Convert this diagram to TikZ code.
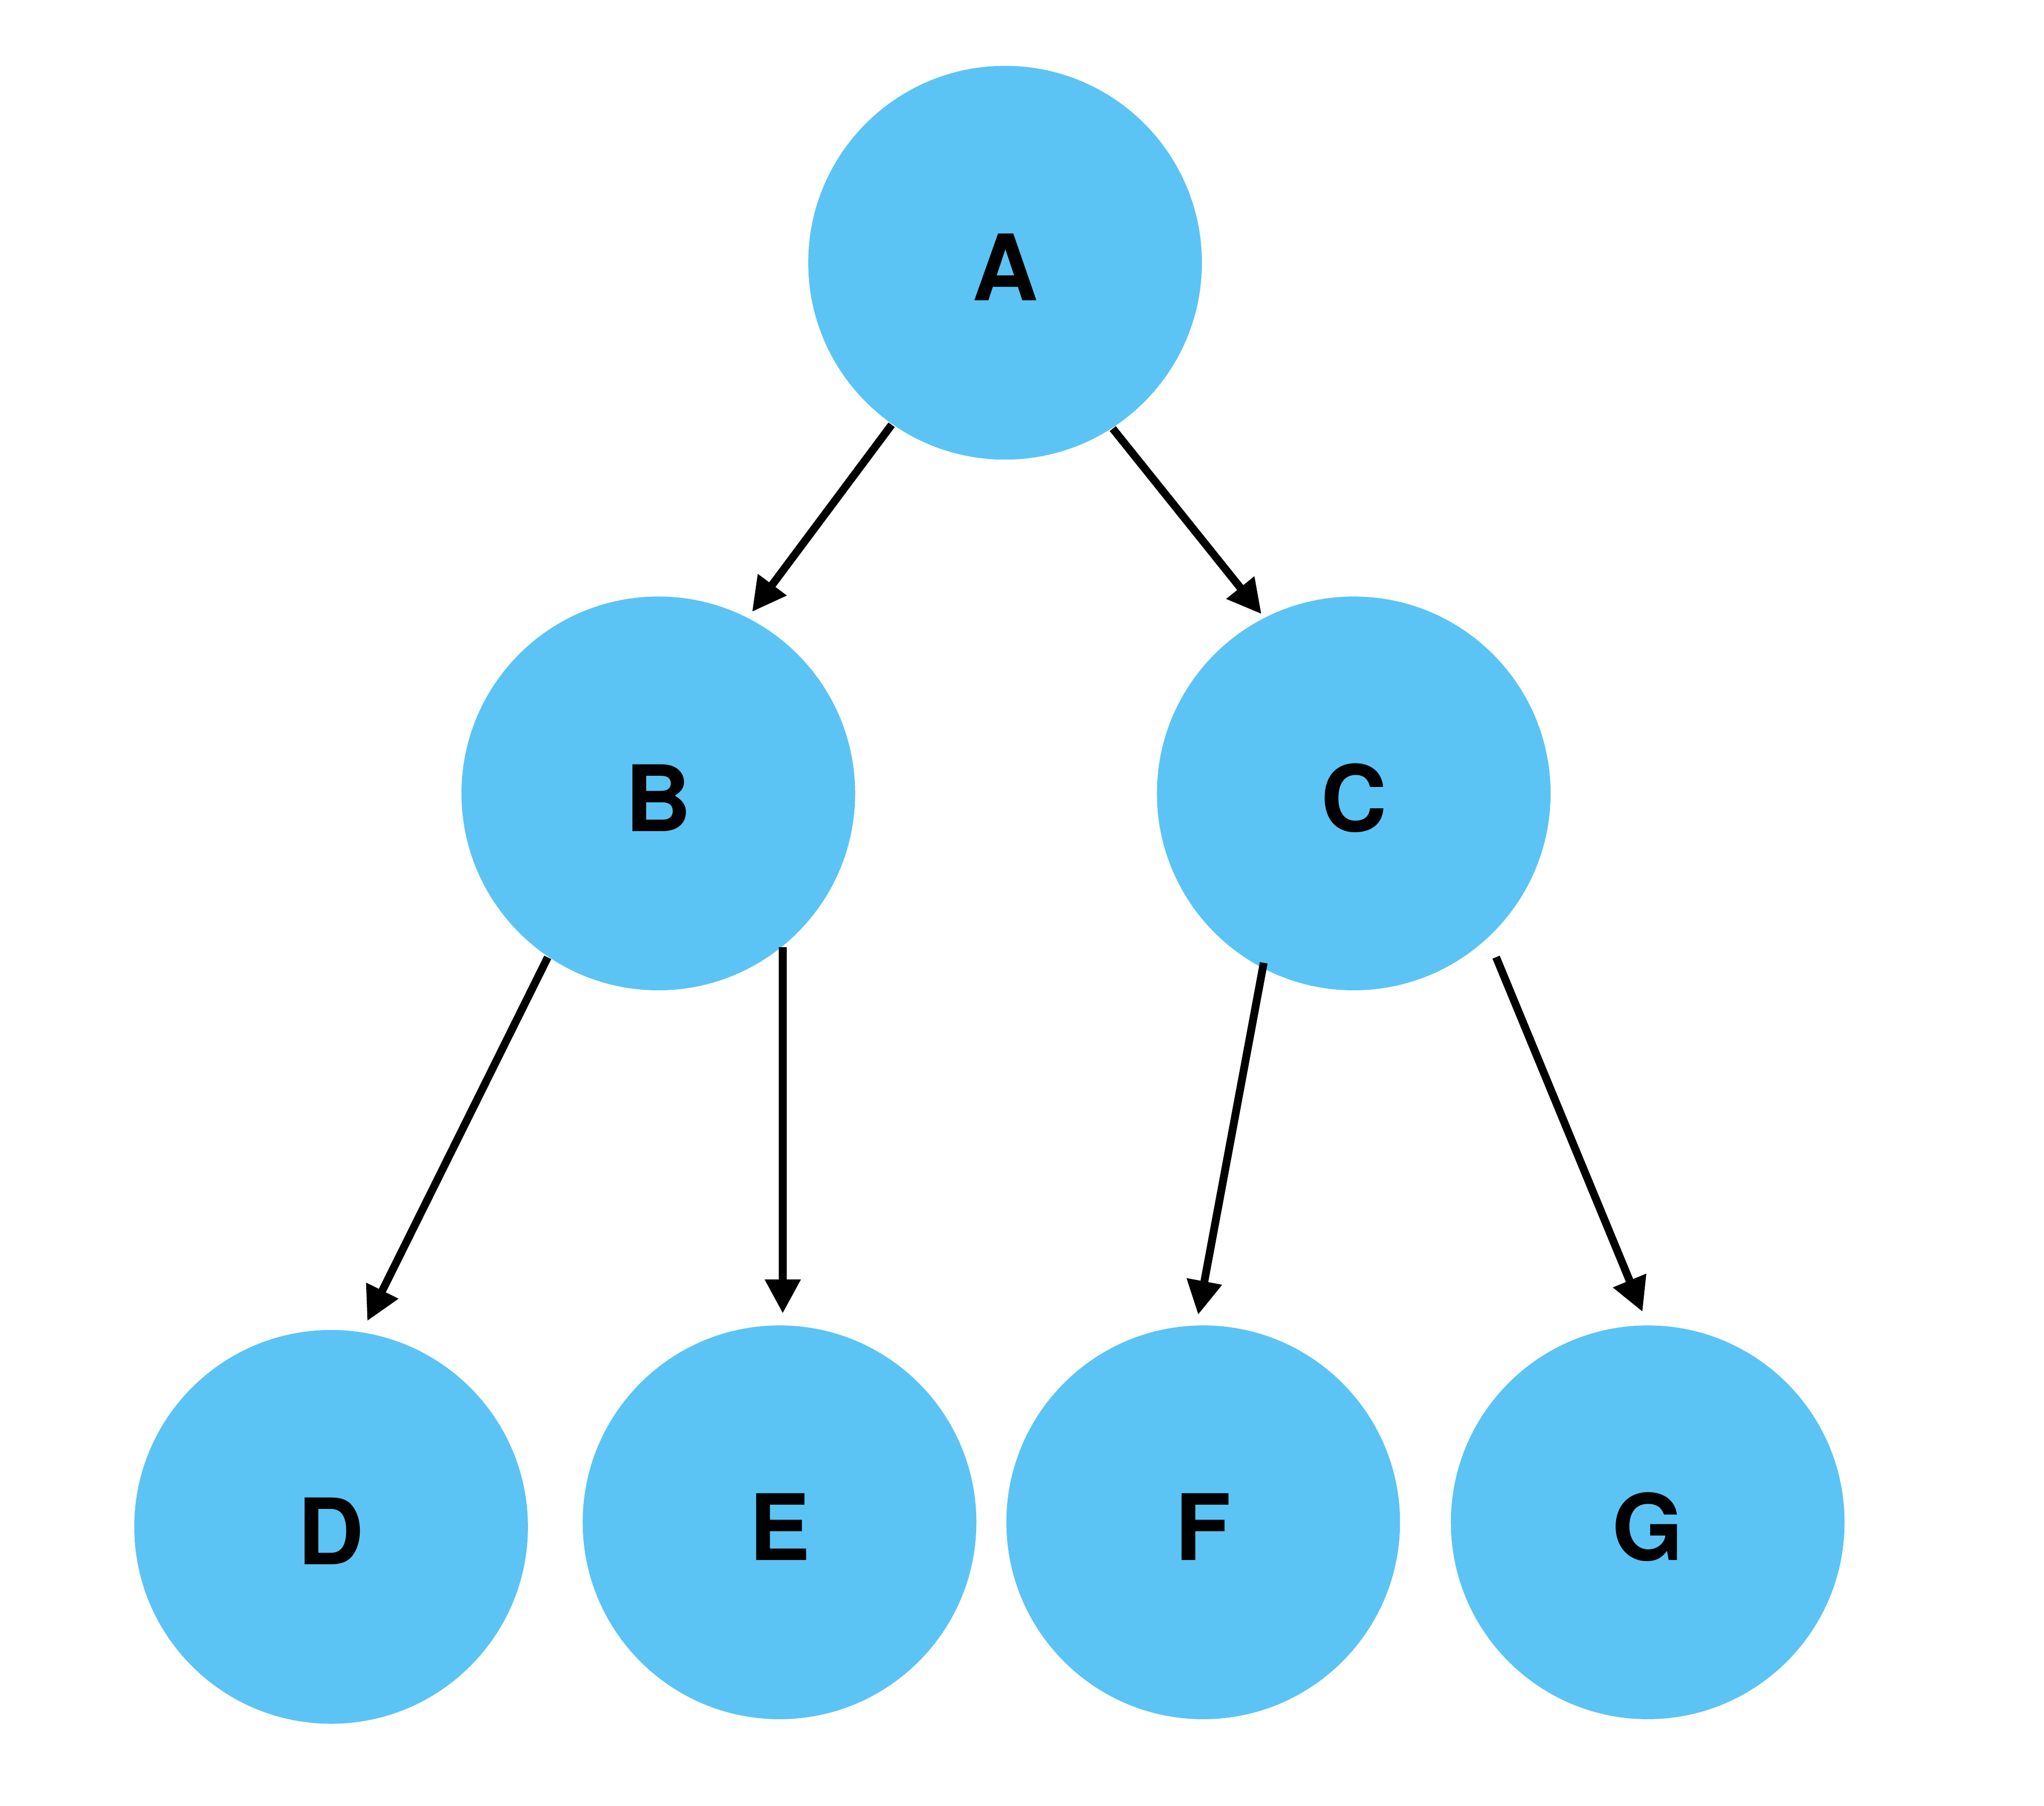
\documentclass[tikz,border=0pt]{standalone}
\usepackage{fontspec}
\setmainfont{TeX Gyre Heros}
\usetikzlibrary{arrows.meta,calc}
\definecolor{uNode}{HTML}{5BC4F5}
\tikzset{
  vtx/.style={circle, fill=uNode, draw=none, minimum size=30.2mm, inner sep=0pt,
              text height=5.8mm, text depth=0pt,
              font=\bfseries\fontsize{20}{24}\selectfont},
  flow/.style={-{Triangle[length=2.6mm, width=2.6mm]}, line width=0.6mm},
}

\begin{document}
\begin{tikzpicture}[x=0.1mm, y=-0.1mm]

\useasboundingbox (0,0) rectangle (1568,1385);

%% ── the tree, row by row ───────────────────────────────────────────────
\node[vtx] (A) at (771,201.5)  {A};
\node[vtx] (B) at (505,608.5)  {B};
\node[vtx] (C) at (1038.5,608.5) {C};
\node[vtx] (D) at (254,1171)   {D};
\node[vtx] (E) at (598,1167.5) {E};
\node[vtx] (F) at (923,1167.5) {F};
\node[vtx] (G) at (1264,1167.5) {G};

%% ── parent -> child ────────────────────────────────────────────────────
\draw[flow, shorten >=0.51mm] (A.235.4) -- (B.63.35);
\draw[flow, shorten >=0.31mm] (A.303.9) -- (C.117.65);
\draw[flow, shorten >=0.9mm]  (B.236.4) -- (D.81);
\draw[flow, shorten >=0.85mm] (B.309) -- (B.309 |- E.north);
\draw[flow, shorten >=0.77mm] ($(C.center)!0.97!(C.242.1)$) -- (F.92.5);
\draw[flow, shorten >=1.05mm] ($(C.center)!1.097!(C.311.8)$) -- (G.90.4);

\end{tikzpicture}
\end{document}
